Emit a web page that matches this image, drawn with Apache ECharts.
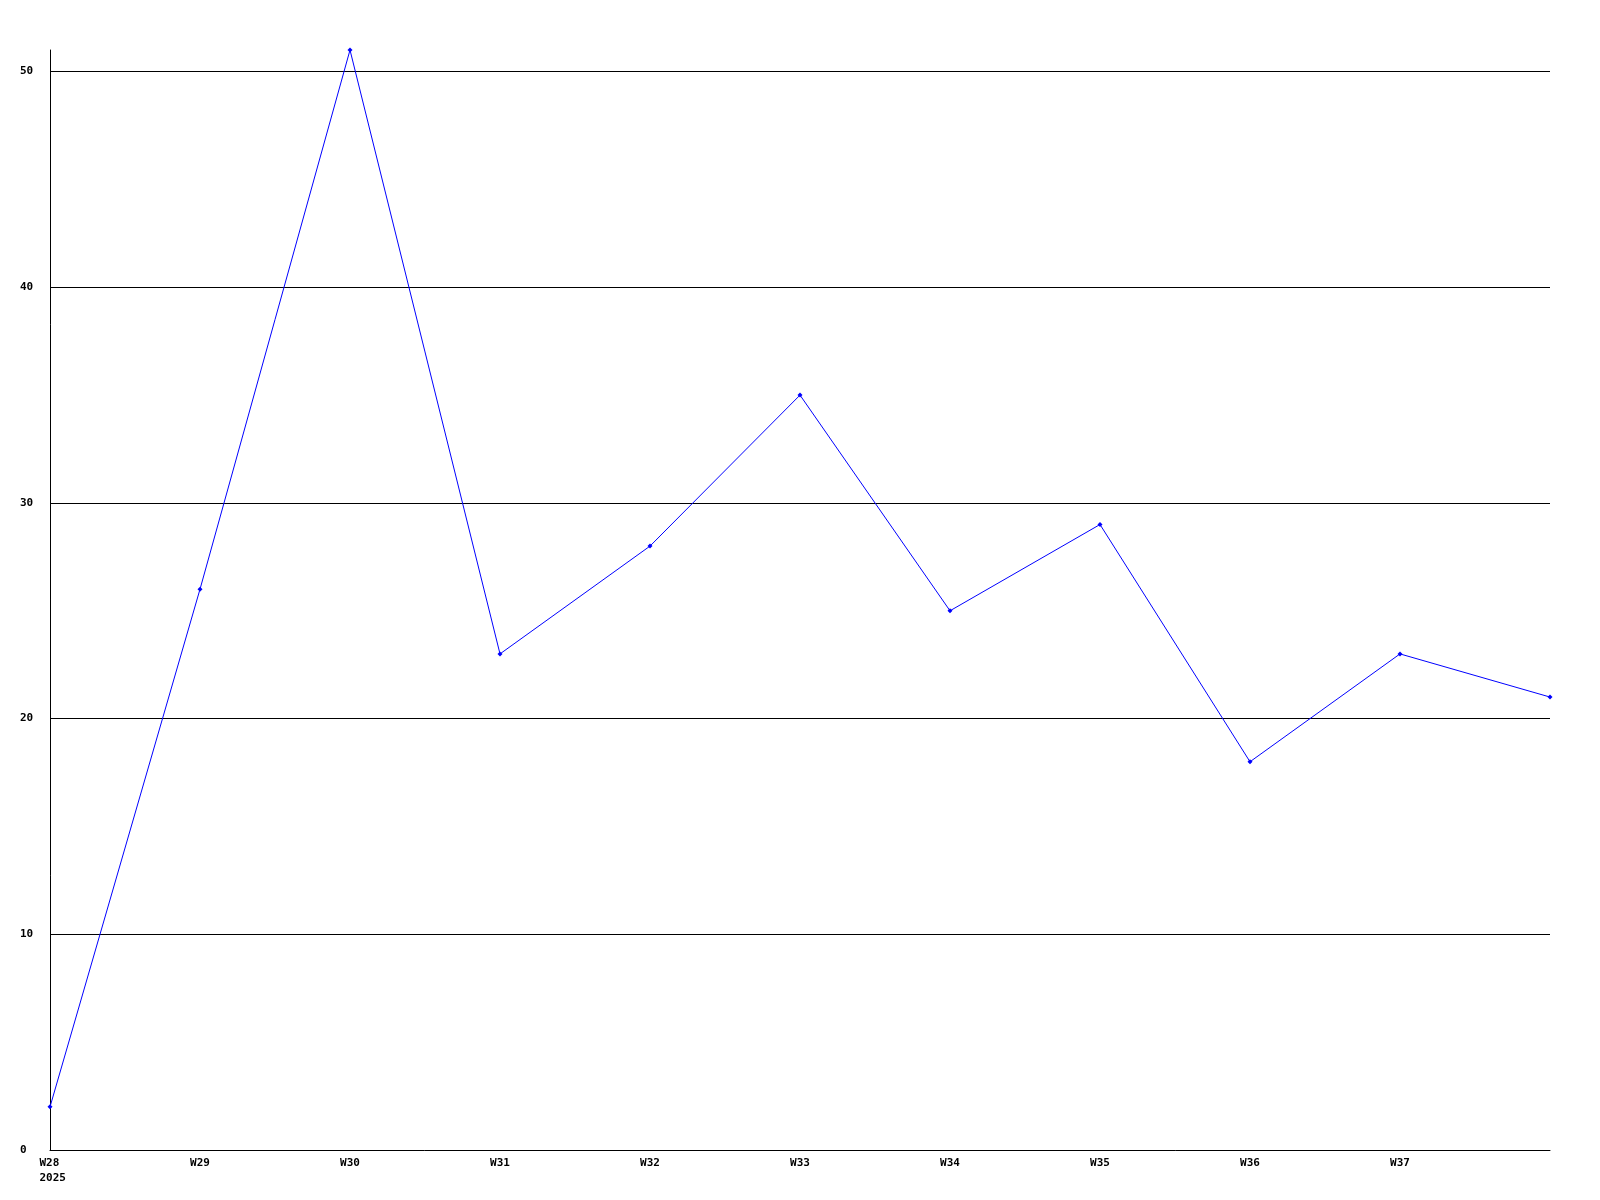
<!DOCTYPE html>
<html>
<head>
<meta charset="utf-8">
<style>html,body{margin:0;padding:0;background:#fff;}#chart{width:1600px;height:1200px;}</style>
<script src="https://cdn.jsdelivr.net/npm/echarts@6/dist/echarts.min.js"></script>
</head>
<body>
<div id="chart"></div>
<script>
const weeks = ['W28','W29','W30','W31','W32','W33','W34','W35','W36','W37','W38'];
const values = [2, 26, 51, 23, 28, 35, 25, 29, 18, 23, 21];
const yearLabel = '2025';
const gridValues = [10, 20, 30, 40, 50];
const yMax = 51;

const chart = echarts.init(document.getElementById('chart'), null, {renderer: 'canvas'});
const font = '"DejaVu Sans Mono", "Liberation Mono", monospace';
chart.setOption({
  animation: false,
  backgroundColor: '#ffffff',
  grid: {left: 50, right: 50, top: 50, bottom: 50, containLabel: false},
  xAxis: {
    type: 'category',
    data: weeks,
    boundaryGap: false,
    axisLine: {show: true, lineStyle: {color: '#000', width: 1}},
    axisTick: {show: false},
    splitLine: {show: false},
    axisLabel: {
      interval: 0,
      margin: 6,
      color: '#000',
      fontFamily: font,
      fontWeight: 'bold',
      fontSize: 11,
      lineHeight: 15,
      align: 'center',
      rich: {
        f: {width: 21, align: 'left', color: '#000', fontFamily: font, fontWeight: 'bold', fontSize: 11, lineHeight: 15}
      },
      formatter: function (v, i) {
        if (i === weeks.length - 1) return '';
        return i === 0 ? '{f|' + v + '}\n{f|' + yearLabel + '}' : v;
      }
    }
  },
  yAxis: {
    type: 'value',
    min: 0,
    max: yMax,
    interval: 10,
    axisLine: {show: true, lineStyle: {color: '#000', width: 1}},
    axisTick: {show: false},
    splitLine: {show: false},
    axisLabel: {
      showMaxLabel: false,
      margin: 30,
      align: 'left',
      color: '#000',
      fontFamily: font,
      fontWeight: 'bold',
      fontSize: 11,
      padding: [2, 0, 0, 0],
      formatter: function (v) { return gridValues.indexOf(v) >= 0 || v === 0 ? String(v) : ''; }
    }
  },
  series: [{
    type: 'line',
    data: values,
    symbol: 'diamond',
    symbolSize: 5,
    showSymbol: true,
    lineStyle: {color: '#0000ff', width: 1},
    itemStyle: {color: '#0000ff'},
    z: 5,
    markLine: {
      silent: true,
      symbol: ['none', 'none'],
      label: {show: false},
      lineStyle: {color: '#000', width: 1, type: 'solid'},
      emphasis: {disabled: true},
      z: 1,
      data: gridValues.map(v => ({yAxis: v}))
    }
  }]
});
</script>
</body>
</html>
